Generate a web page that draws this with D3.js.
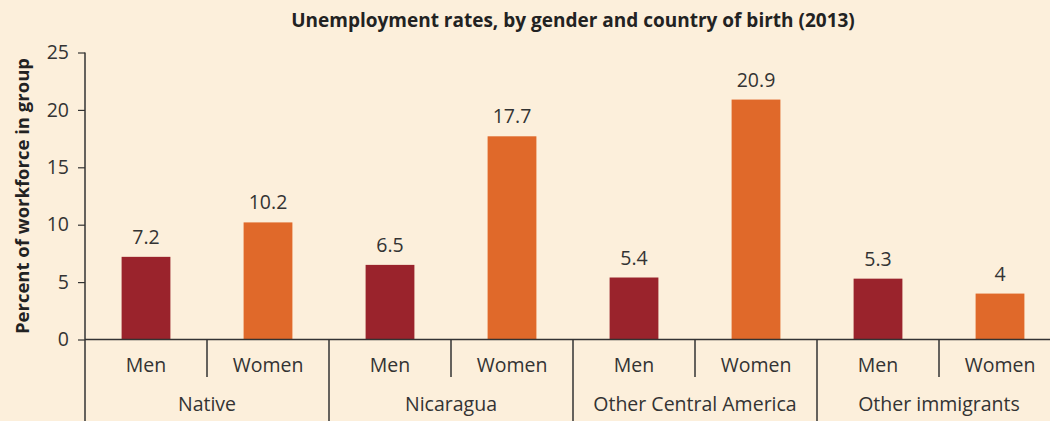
<!DOCTYPE html>
<html>
  <head>
    <meta charset="utf-8">
    <title>Unemployment rates</title>
    <script src="https://d3js.org/d3.v7.min.js"></script>
    <style>
      body { margin: 0; background: #fcefdb; }
      svg { display: block; font-family: "Open Sans", sans-serif; }
      .lab, .val { fill: #333; font-size: 19.5px; }
      .title { font-weight: bold; font-size: 19px; fill: #222; }
      .ytitle { font-weight: bold; font-size: 18.5px; fill: #222; }
    </style>
  </head>
  <body>
    <svg id="chart" width="1050" height="421"></svg>
    <script>
      // data
      groups = ["Native", "Nicaragua", "Other Central America", "Other immigrants"];
      genders = ["Men", "Women"];
      men = [7.2, 6.5, 5.4, 5.3];
      women = [10.2, 17.7, 20.9, 4];
      yTicks = [0, 5, 10, 15, 20, 25];
      colours = { Men: "#9a232c", Women: "#e0692a" };

      rows = [];
      groups.forEach(function(g, i) {
        rows.push({ group: g, gender: "Men", value: men[i] });
        rows.push({ group: g, gender: "Women", value: women[i] });
      });

      svg = d3.select("#chart");
      left = 85;
      right = 1061;
      top0 = 52.5;
      base = 339.5;
      ink = "#333";

      x0 = d3.scaleBand().domain(groups).range([left, right]);
      x1 = d3.scaleBand().domain(genders).range([0, x0.bandwidth()]);
      y = d3.scaleLinear().domain([0, 25]).range([base, top0]);
      barW = x1.bandwidth() * 0.4;

      // title
      svg.append("text")
        .attr("class", "title")
        .attr("x", (left + right) / 2)
        .attr("y", 27)
        .attr("text-anchor", "middle")
        .text("Unemployment rates, by gender and country of birth (2013)");

      // y axis
      yAxis = svg.append("g")
        .attr("transform", "translate(" + left + ",0)")
        .call(d3.axisLeft(y).tickValues(yTicks).tickSize(7).tickPadding(9));
      yAxis.select(".domain").remove();
      yAxis.selectAll(".tick line").attr("stroke", ink).attr("stroke-width", 1.2);
      yAxis.selectAll(".tick text").attr("font-size", 19.5).attr("font-family", "'Open Sans', sans-serif").attr("fill", ink);
      svg.append("line")
        .attr("x1", left).attr("x2", left)
        .attr("y1", top0).attr("y2", 421)
        .attr("stroke", ink).attr("stroke-width", 1.5);

      svg.append("text")
        .attr("class", "ytitle")
        .attr("transform", "translate(29," + (top0 + base) / 2 + ") rotate(-90)")
        .attr("text-anchor", "middle")
        .text("Percent of workforce in group");

      // bars
      bars = svg.append("g");
      bars.selectAll("rect")
        .data(rows)
        .enter().append("rect")
          .attr("x", function(d) { return x0(d.group) + x1(d.gender) + (x1.bandwidth() - barW) / 2; })
          .attr("y", function(d) { return y(d.value); })
          .attr("width", barW)
          .attr("height", function(d) { return y(0) - y(d.value); })
          .attr("fill", function(d) { return colours[d.gender]; });
      bars.selectAll(".val")
        .data(rows)
        .enter().append("text")
          .attr("class", "val")
          .attr("x", function(d) { return x0(d.group) + x1(d.gender) + x1.bandwidth() / 2; })
          .attr("y", function(d) { return y(d.value) - 13; })
          .attr("text-anchor", "middle")
          .text(function(d) { return d.value; });

      // baseline
      svg.append("line")
        .attr("x1", left).attr("x2", right)
        .attr("y1", base).attr("y2", base)
        .attr("stroke", ink).attr("stroke-width", 1.5);

      // category axis: gender row and group row
      cat = svg.append("g");
      cat.selectAll(".sub")
        .data(rows)
        .enter().append("text")
          .attr("class", "lab")
          .attr("x", function(d) { return x0(d.group) + x1(d.gender) + x1.bandwidth() / 2; })
          .attr("y", 372)
          .attr("text-anchor", "middle")
          .text(function(d) { return d.gender; });
      cat.selectAll(".subline")
        .data(groups)
        .enter().append("line")
          .attr("x1", function(d) { return x0(d) + x1("Women"); })
          .attr("x2", function(d) { return x0(d) + x1("Women"); })
          .attr("y1", base).attr("y2", 377)
          .attr("stroke", ink).attr("stroke-width", 1.5);
      cat.selectAll(".grp")
        .data(groups)
        .enter().append("text")
          .attr("class", "lab")
          .attr("x", function(d) { return x0(d) + x0.bandwidth() / 2; })
          .attr("y", 411)
          .attr("text-anchor", "middle")
          .text(function(d) { return d; });
      cat.selectAll(".grpline")
        .data(groups.slice(1))
        .enter().append("line")
          .attr("x1", function(d) { return x0(d); })
          .attr("x2", function(d) { return x0(d); })
          .attr("y1", base).attr("y2", 421)
          .attr("stroke", ink).attr("stroke-width", 1.5);
    </script>
  </body>
</html>
